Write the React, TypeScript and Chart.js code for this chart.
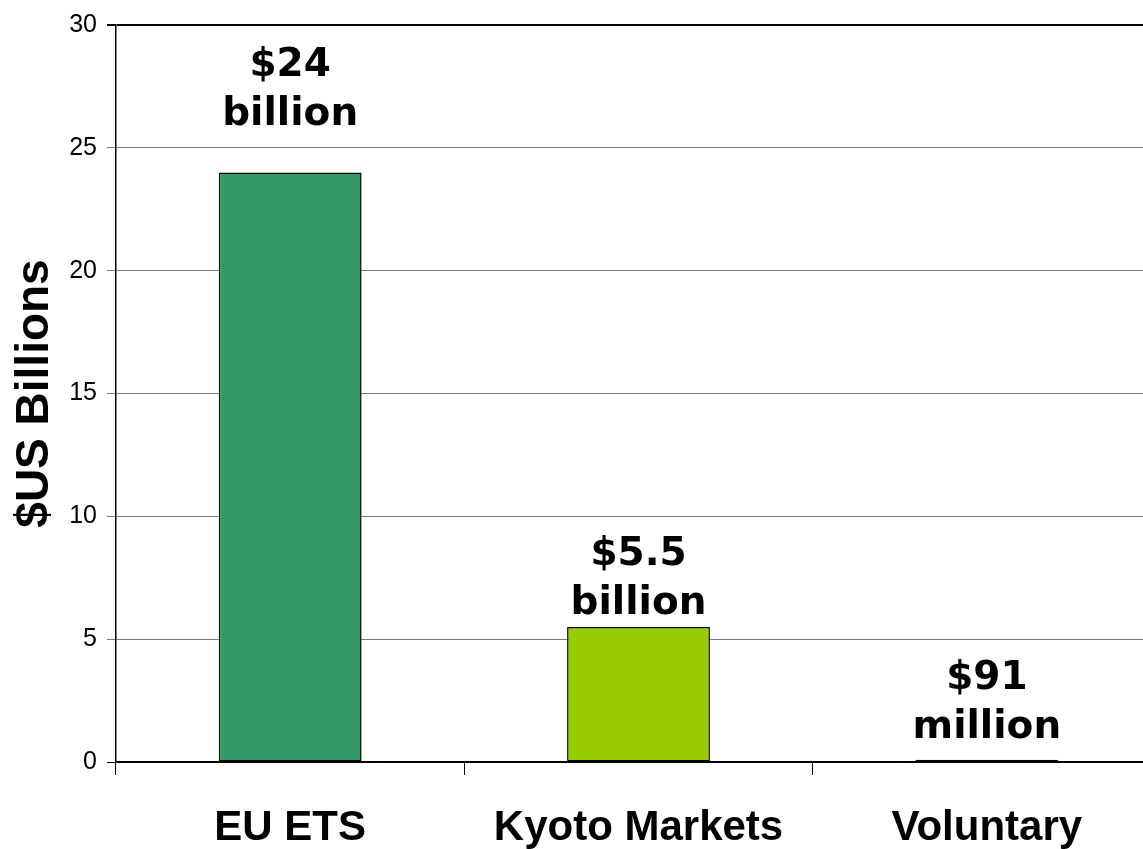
import React, { useEffect, useRef } from "react";
import { Chart, registerables } from "chart.js";

Chart.register(...registerables);

const categories = ["EU ETS", "Kyoto Markets", "Voluntary"];
const valuesBillions = [24, 5.5, 0.091];
const valueLabels = [
  ["$24", "billion"],
  ["$5.5", "billion"],
  ["$91", "million"],
];
const barColors = ["#339966", "#99CC00", "#101020"];
const yTickMin = 0;
const yTickMax = 30;
const yTickStep = 5;
const yAxisTitle = "$US Billions";

const valueLabelPlugin = {
  id: "valueLabels",
  afterDatasetsDraw(chart: any, _args: any, opts: any) {
    const meta = chart.getDatasetMeta(0);
    const ctx = chart.ctx;
    ctx.save();
    ctx.font = 'bold 39px "DejaVu Sans"';
    ctx.textAlign = "center";
    ctx.textBaseline = "alphabetic";
    ctx.fillStyle = "#000";
    meta.data.forEach((bar: any, i: number) => {
      const lines = valueLabels[i];
      const base = bar.y - opts.lift[i];
      ctx.fillText(lines[1], bar.x, base);
      ctx.fillText(lines[0], bar.x, base - opts.lineGap);
    });
    ctx.restore();
  },
};

export default function App() {
  const ref = useRef<HTMLCanvasElement | null>(null);

  useEffect(() => {
    if (!ref.current) return;
    const chart = new Chart(ref.current, {
      type: "bar",
      data: {
        labels: categories,
        datasets: [
          {
            data: valuesBillions,
            backgroundColor: barColors,
            borderColor: "#000",
            borderWidth: 1.5,
            borderSkipped: false,
            barPercentage: 0.41,
            categoryPercentage: 1,
          },
        ],
      },
      options: {
        responsive: false,
        animation: false,
        layout: { padding: { top: 23, left: 0, right: 0, bottom: 0 } },
        plugins: {
          legend: { display: false },
          tooltip: { enabled: false },
          valueLabels: { lift: [47, 13, 22], lineGap: 49 },
        } as any,
        scales: {
          x: {
            offset: true,
            border: { color: "#000", width: 1.5 },
            grid: {
              drawOnChartArea: false,
              drawTicks: true,
              tickLength: 13,
              color: "#000",
              lineWidth: 1,
              offset: true,
            },
            ticks: {
              color: "#000",
              padding: 28,
              font: { family: '"Liberation Sans", Arial', size: 42, weight: "bold" },
            },
            afterFit: (s: any) => {
              s.height = 87;
            },
          },
          y: {
            min: yTickMin,
            max: yTickMax,
            border: { color: "#000", width: 1.5 },
            grid: {
              color: (c: any) =>
                c.tick && (c.tick.value === 30 || c.tick.value === 0) ? "#000" : "#777",
              lineWidth: (c: any) => (c.tick && c.tick.value === 30 ? 2 : 1),
              tickLength: 9,
            },
            ticks: {
              stepSize: yTickStep,
              color: "#000",
              padding: 10,
              font: { family: '"Liberation Sans", Arial', size: 25 },
            },
            title: {
              display: true,
              text: yAxisTitle,
              color: "#000",
              padding: { top: 8, bottom: 0 },
              font: { family: '"Liberation Sans", Arial', size: 46, weight: "bold" },
            },
            afterFit: (s: any) => {
              s.width = 116;
            },
          },
        },
      },
      plugins: [valueLabelPlugin],
    });
    return () => chart.destroy();
  }, []);

  return (
    <div
      style={{
        position: "fixed",
        left: 0,
        top: 0,
        width: 1143,
        height: 849,
        overflow: "hidden",
        background: "#fff",
      }}
    >
      <canvas ref={ref} width={1161} height={849} style={{ display: "block", width: 1161, height: 849 }} />
    </div>
  );
}
